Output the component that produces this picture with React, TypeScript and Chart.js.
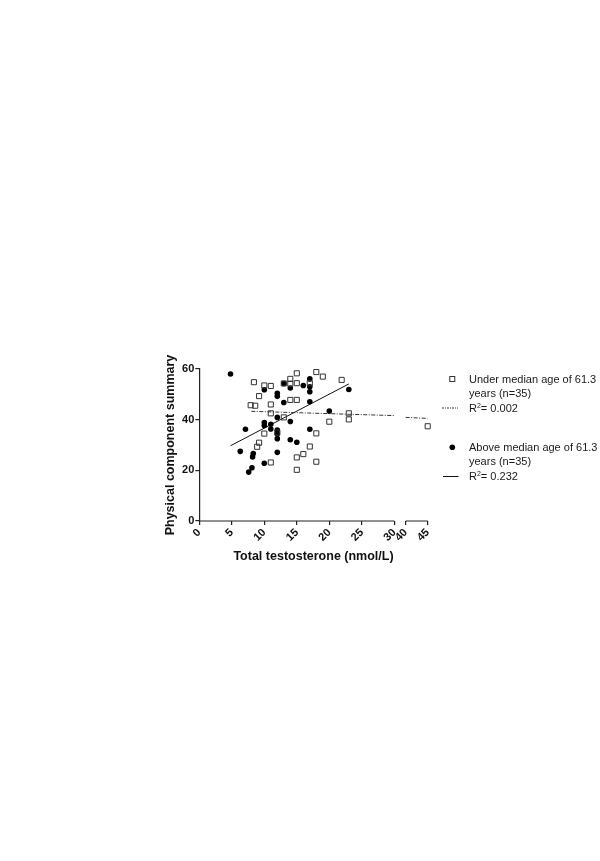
import React, { useEffect, useRef } from "react";
import { Chart, registerables } from "chart.js";

Chart.register(...registerables);

// ---- data ----
const underX = [8.4, 7.9, 8.6, 9.2, 8.9, 9.2, 10.0, 10.0, 11.0, 11.0, 11.0, 11.0, 12.0, 13.0, 13.0, 14.0, 14.0, 14.0, 15.0, 15.0, 15.0, 15.0, 15.0, 16.0, 17.0, 17.0, 18.0, 18.0, 18.0, 19.0, 20.0, 21.9, 23.0, 23.0, 45.0];
const underY = [54.8, 45.7, 45.5, 49.3, 29.3, 30.9, 53.5, 34.5, 53.3, 46.0, 42.5, 23.1, 34.9, 54.3, 40.9, 56.1, 54.2, 47.8, 58.3, 54.4, 47.8, 25.1, 20.2, 26.4, 54.4, 29.4, 58.8, 34.6, 23.4, 57.0, 39.2, 55.7, 42.5, 40.1, 37.4];

const aboveX = [4.8, 6.3, 7.1, 7.6, 8.1, 8.3, 8.2, 10.0, 10.0, 10.0, 10.0, 11.0, 11.0, 12.0, 12.0, 12.0, 12.0, 12.0, 12.0, 12.0, 13.0, 13.0, 14.0, 14.0, 14.0, 15.0, 16.0, 17.0, 17.0, 17.0, 17.0, 17.0, 20.0, 23.0];
const aboveY = [58.0, 27.5, 36.2, 19.3, 21.0, 26.6, 25.3, 22.8, 51.8, 38.9, 37.7, 38.2, 36.3, 50.4, 49.2, 40.9, 35.9, 34.4, 32.5, 27.1, 54.3, 46.8, 52.5, 39.3, 32.1, 31.1, 53.5, 56.1, 53.0, 51.0, 47.1, 36.2, 43.4, 51.9];

// regression line end points
const underFitLowX = [8, 30];
const underFitLowY = [43.3, 41.6];
const underFitHighX = [40, 45];
const underFitHighY = [40.9, 40.5];
const aboveFitX = [4.8, 23];
const aboveFitY = [29.7, 54.1];

const xTickValues = [0, 5, 10, 15, 20, 25, 30, 40, 45];
const xTickLabels = ["0", "5", "10", "15", "20", "25", "30", "40", "45"];
const yTickValues = [0, 20, 40, 60];

const legendUnder = ["Under median age of 61.3", "years (n=35)", "0.002"];
const legendAbove = ["Above median age of 61.3", "years (n=35)", "0.232"];

// ---- broken x-axis (30 // 40) ----
const BREAK_FROM = 30;
const BREAK_TO = 40;
const BREAK_GAP = 1.75;
const UPPER_RATIO = 0.677;
const toAxis = (v: number) =>
  v <= BREAK_FROM ? v : BREAK_FROM + BREAK_GAP + (v - BREAK_TO) * UPPER_RATIO;

const pts = (xs: number[], ys: number[]) => xs.map((x, i) => ({ x: toAxis(x), y: ys[i] }));

const FONT = "'Liberation Sans', Arial, Helvetica, sans-serif";
const AXIS_COLOR = "#222";

const brokenAxisPlugin = {
  id: "brokenAxis",
  afterDraw(chart: any) {
    const s = chart.scales.x;
    const y = chart.chartArea.bottom;
    const ctx = chart.ctx;
    ctx.save();
    ctx.strokeStyle = AXIS_COLOR;
    ctx.lineWidth = 1.2;
    ctx.beginPath();
    ctx.moveTo(s.getPixelForValue(toAxis(0)) - 0.6, y);
    ctx.lineTo(s.getPixelForValue(toAxis(BREAK_FROM)), y);
    ctx.moveTo(s.getPixelForValue(toAxis(BREAK_TO)), y);
    ctx.lineTo(s.getPixelForValue(toAxis(45)), y);
    ctx.stroke();
    ctx.restore();
  },
};

function ChartCanvas() {
  const ref = useRef<HTMLCanvasElement | null>(null);
  useEffect(() => {
    if (!ref.current) return;
    const chart = new Chart(ref.current, {
      type: "scatter",
      data: {
        datasets: [
          {
            label: "under",
            data: pts(underX, underY),
            pointStyle: "rect",
            pointRadius: 3.6,
            borderWidth: 1,
            borderColor: "#333",
            backgroundColor: "rgba(0,0,0,0)",
            clip: false,
          } as any,
          {
            label: "above",
            data: pts(aboveX, aboveY),
            pointStyle: "circle",
            pointRadius: 2.8,
            borderWidth: 0,
            backgroundColor: "#000",
            borderColor: "#000",
            clip: false,
          } as any,
          {
            label: "underFitLow",
            data: pts(underFitLowX, underFitLowY),
            showLine: true,
            pointRadius: 0,
            borderColor: "#333",
            borderWidth: 1,
            borderDash: [4, 1.5, 1, 1.5],
          } as any,
          {
            label: "underFitHigh",
            data: pts(underFitHighX, underFitHighY),
            showLine: true,
            pointRadius: 0,
            borderColor: "#333",
            borderWidth: 1,
            borderDash: [4, 1.5, 1, 1.5],
          } as any,
          {
            label: "aboveFit",
            data: pts(aboveFitX, aboveFitY),
            showLine: true,
            pointRadius: 0,
            borderColor: "#111",
            borderWidth: 1,
          } as any,
        ],
      },
      options: {
        responsive: false,
        animation: false,
        events: [],
        layout: { padding: { left: 160, top: 369, right: 172.3, bottom: 295 } },
        plugins: { legend: { display: false }, tooltip: { enabled: false } },
        scales: {
          x: {
            type: "linear",
            min: 0,
            max: toAxis(45),
            afterFit: (s: any) => {
              s.height = 45;
            },
            afterBuildTicks: (s: any) => {
              s.ticks = xTickValues.map((v) => ({ value: toAxis(v) }));
            },
            border: { display: false },
            grid: {
              display: true,
              drawOnChartArea: false,
              drawTicks: true,
              tickLength: 4,
              color: AXIS_COLOR,
              lineWidth: 1.2,
            },
            ticks: {
              autoSkip: false,
              minRotation: 45,
              maxRotation: 45,
              padding: 1,
              color: "#111",
              font: { family: FONT, size: 11, weight: "bold" },
              callback: (_v: any, i: number) => xTickLabels[i],
            },
            title: {
              display: true,
              text: "Total testosterone (nmol/L)",
              color: "#111",
              font: { family: FONT, size: 12.5, weight: "bold" },
              padding: { top: 0, bottom: 2 },
            },
          },
          y: {
            type: "linear",
            min: 0,
            max: 60,
            afterFit: (s: any) => {
              s.width = 39.3;
            },
            afterBuildTicks: (s: any) => {
              s.ticks = yTickValues.map((v) => ({ value: v }));
            },
            border: { display: true, color: AXIS_COLOR, width: 1.2 },
            grid: {
              display: true,
              drawOnChartArea: false,
              drawTicks: true,
              tickLength: 4,
              color: AXIS_COLOR,
              lineWidth: 1.2,
            },
            ticks: {
              padding: 1,
              color: "#111",
              font: { family: FONT, size: 11, weight: "bold" },
            },
            title: {
              display: true,
              text: "Physical component summary",
              color: "#111",
              font: { family: FONT, size: 12.5, weight: "bold" },
              padding: { top: 3, bottom: 0 },
            },
          },
        },
      } as any,
      plugins: [brokenAxisPlugin],
    });
    return () => chart.destroy();
  }, []);
  return <canvas ref={ref} width={600} height={861} style={{ display: "block", width: 600, height: 861 }} />;
}

const textStyle = (top: number): React.CSSProperties => ({
  position: "absolute",
  left: 469,
  top: top - 6.5,
  fontFamily: FONT,
  fontSize: 11,
  lineHeight: "13px",
  color: "#1a1a1a",
  whiteSpace: "nowrap",
});

function R2({ top, value }: { top: number; value: string }) {
  return (
    <div style={textStyle(top)}>
      R<sup style={{ fontSize: 7, lineHeight: 0, verticalAlign: "4px" }}>2</sup>= {value}
    </div>
  );
}

export default function App() {
  return (
    <div style={{ position: "absolute", left: 0, top: 0, width: 600, height: 861, background: "#fff" }}>
      <ChartCanvas />
      <svg width={600} height={861} style={{ position: "absolute", left: 0, top: 0, pointerEvents: "none" }}>
        <rect x={449.8} y={376.5} width={5} height={5} fill="none" stroke="#333" strokeWidth={1} />
        <line x1={442} y1={408} x2={458} y2={408} stroke="#333" strokeWidth={1} strokeDasharray="2 1 1 1" />
        <circle cx={452.3} cy={447.3} r={2.8} fill="#000" />
        <line x1={443} y1={476.5} x2={458.5} y2={476.5} stroke="#111" strokeWidth={1} />
      </svg>
      <div style={textStyle(379)}>{legendUnder[0]}</div>
      <div style={textStyle(393.5)}>{legendUnder[1]}</div>
      <R2 top={408} value={legendUnder[2]} />
      <div style={textStyle(447.3)}>{legendAbove[0]}</div>
      <div style={textStyle(461.8)}>{legendAbove[1]}</div>
      <R2 top={476.5} value={legendAbove[2]} />
    </div>
  );
}
